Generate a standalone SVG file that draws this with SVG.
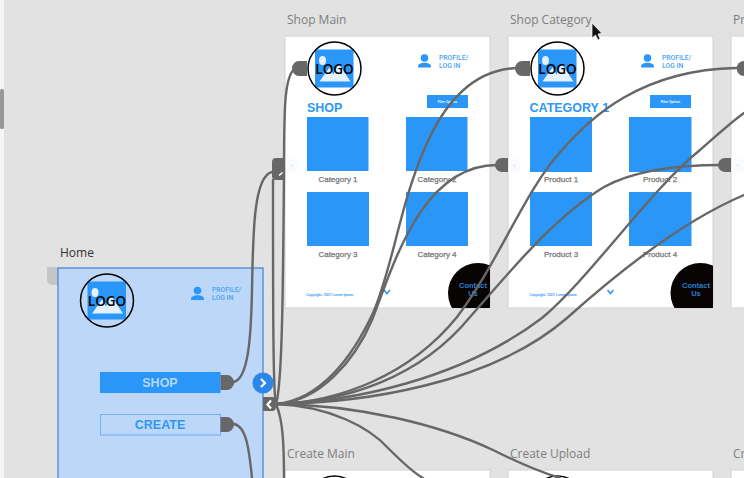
<svg xmlns="http://www.w3.org/2000/svg" xmlns:xlink="http://www.w3.org/1999/xlink" width="744" height="478" viewBox="0 0 744 478">
<style>
.title{font:12px "Open Sans",sans-serif;fill:#7d7d7d}
.card{fill:#fff;stroke:#d2d2d2;stroke-width:1}
.b{fill:#2996f8}
.lg{font:600 13.5px "Open Sans",sans-serif;fill:#000;text-anchor:middle}
.pf{font:500 6.8px Roboto,sans-serif;fill:#4aa4f4}
.hd{font:700 12.5px "Liberation Sans",sans-serif;fill:#2f97f3}
.cap{font:8px "Liberation Sans",sans-serif;fill:#777;text-anchor:middle;stroke:#777;stroke-width:.25}
.cp{font:3.6px "Liberation Sans",sans-serif;fill:#2996f8;stroke:#2996f8;stroke-width:.1}
.ct{font:700 7.5px "Liberation Sans",sans-serif;fill:#2a7fd0;text-anchor:middle}
.fo{font:700 3px "Liberation Sans",sans-serif;fill:#fff;text-anchor:middle}
.tab{fill:#fafbfd}
.tc{fill:none;stroke:#b5d6f7;stroke-width:.7}
.ch{fill:none;stroke:#2996f8;stroke-width:1.5}
.con{fill:none;stroke:#676767;stroke-width:2.4;stroke-linecap:round}
.h{fill:#676767}
.wc{fill:none;stroke:#fff;stroke-width:2.2}
</style>
<defs>
<g id="logo">
<rect x="-19.500" y="-19" width="38.500" height="38" class="b"/>
<ellipse cx="-12" cy="-8" rx="3.500" ry="4.500" fill="#e4f1fd"/>
<path d="M-15 13 L-5 -1 L-1 6 L4 -5 L16 13 Z" fill="#e4f1fd"/>
<circle cx="0" cy="0" r="26.500" fill="none" stroke="#000" stroke-width="1.500"/>
<text x="0" y="5" class="lg">LOGO</text>
</g>
<g id="profile">
<circle cx="0" cy="0" r="3.800" class="b"/>
<path d="M-6.500 9.500 V8.500 C-6.500 3.500 6.500 3.500 6.500 8.500 V9.500 Z" class="b"/>
</g>
<clipPath id="c1"><rect x="285" y="36" width="205" height="272"/></clipPath>
<clipPath id="c2"><rect x="508" y="36" width="205" height="272"/></clipPath>
</defs>

<rect width="744" height="478" fill="#e2e2e2"/>
<rect width="4" height="478" fill="#f6f6f5"/>
<rect x="0" y="89" width="4" height="40" rx="1.500" fill="#979797"/>

<g id="home">
<text x="60" y="257" class="title" style="fill:#333">Home</text>
<path d="M47 267 H58 V285 H53 Q47 285 47 279 Z" fill="#c5c5c5"/>
<rect x="58" y="268" width="205" height="230" fill="#bcd7f7" stroke="#5b93da" stroke-width="1.500"/>
<use xlink:href="#logo" href="#logo" x="107" y="300.500"/>
<use xlink:href="#profile" href="#profile" x="197.500" y="290.500"/>
<text class="pf" x="212" y="292">PROFILE/</text>
<text class="pf" x="212" y="300">LOG IN</text>
</g>
<g id="btn-shop">
<rect x="100" y="372" width="120.500" height="21" class="b"/>
<text x="160" y="386.500" class="hd" text-anchor="middle" style="fill:#b5d8fa">SHOP</text>
<path d="M220.500 375 H227 A7 7.500 0 0 1 227 390 H220.500 Z" class="h"/>
</g>
<g id="btn-create">
<rect x="100.500" y="414.500" width="120" height="20.500" fill="#bcd7f7" stroke="#72b1f5"/>
<text x="160" y="429" class="hd" text-anchor="middle">CREATE</text>
<path d="M220.500 417 H227 A7 7.500 0 0 1 227 432 H220.500 Z" class="h"/>
</g>

<g id="shop-main">
<text x="287" y="24" class="title">Shop Main</text>
<rect x="285" y="36" width="205" height="272" class="card"/>
<use xlink:href="#logo" href="#logo" x="334.500" y="68.500"/>
<use xlink:href="#profile" href="#profile" x="424.500" y="58"/>
<text class="pf" x="439" y="59.500">PROFILE/</text>
<text class="pf" x="439" y="67.500">LOG IN</text>
<text class="hd" x="307" y="112">SHOP</text>
<rect x="427" y="95" width="41" height="13" class="b"/>
<text x="447.500" y="103" class="fo">Filter Options</text>
<rect x="307" y="117" width="61.500" height="54" class="b"/>
<rect x="406" y="117" width="61.500" height="54" class="b"/>
<rect x="307" y="192" width="62" height="54" class="b"/>
<rect x="406" y="192" width="62" height="54" class="b"/>
<text x="338" y="182" class="cap">Category 1</text>
<text x="437" y="182" class="cap">Category 2</text>
<text x="338" y="257" class="cap">Category 3</text>
<text x="437" y="257" class="cap">Category 4</text>
<text x="306" y="296" class="cp">Copyright, 2022 Lorem Ipsum</text>
<path d="M384 290 L387 293.500 L390 290" class="ch"/>
<circle cx="478" cy="293" r="30" fill="#080404" clip-path="url(#c1)"/>
<text x="473" y="288" class="ct">Contact</text>
<text x="473" y="296" class="ct">Us</text>
<rect x="287" y="159" width="10" height="13" class="tab"/>
<path d="M292.500 164 L291 165.500 L292.500 167" class="tc"/>
</g>

<g id="shop-category">
<text x="510" y="24" class="title">Shop Category</text>
<rect x="508" y="36" width="205" height="272" class="card"/>
<use xlink:href="#logo" href="#logo" x="557.500" y="68.500"/>
<use xlink:href="#profile" href="#profile" x="647.500" y="58"/>
<text class="pf" x="662" y="59.500">PROFILE/</text>
<text class="pf" x="662" y="67.500">LOG IN</text>
<text class="hd" x="529.500" y="112">CATEGORY 1</text>
<rect x="650" y="95" width="41" height="13" class="b"/>
<text x="670.500" y="103" class="fo">Filter Options</text>
<rect x="530" y="117" width="62" height="55" class="b"/>
<rect x="629" y="117" width="62.500" height="55" class="b"/>
<rect x="530" y="192" width="62" height="54" class="b"/>
<rect x="629" y="192" width="62.500" height="54" class="b"/>
<text x="561" y="182" class="cap">Product 1</text>
<text x="660" y="182" class="cap">Product 2</text>
<text x="561" y="257" class="cap">Product 3</text>
<text x="660" y="257" class="cap">Product 4</text>
<text x="529.500" y="296" class="cp">Copyright, 2022 Lorem Ipsum</text>
<path d="M607.500 290 L610.500 293.500 L613.500 290" class="ch"/>
<circle cx="700.500" cy="293" r="30" fill="#080404" clip-path="url(#c2)"/>
<text x="696" y="288" class="ct">Contact</text>
<text x="696" y="296" class="ct">Us</text>
<rect x="510" y="159" width="10" height="13" class="tab"/>
<path d="M515.500 164 L514 165.500 L515.500 167" class="tc"/>
</g>

<g id="product">
<text x="733" y="24" class="title">Pr</text>
<rect x="731" y="36" width="30" height="272" class="card"/>
<rect x="733" y="159" width="11" height="13" class="tab"/>
<path d="M738.500 164 L737 165.500 L738.500 167" class="tc"/>
</g>

<g id="create-main">
<text x="287" y="458" class="title">Create Main</text>
<rect x="285" y="470" width="205" height="30" class="card"/>
<use xlink:href="#logo" href="#logo" x="334.500" y="502.500"/>
</g>
<g id="create-upload">
<text x="510" y="458" class="title">Create Upload</text>
<rect x="508" y="470" width="205" height="30" class="card"/>
<use xlink:href="#logo" href="#logo" x="557.500" y="502.500"/>
</g>
<g id="create-next">
<text x="733" y="458" class="title">Cr</text>
<rect x="731" y="470" width="30" height="30" class="card"/>
</g>

<g id="connectors">
<path class="con" d="M234 382 C248 378 251 340 252 290 C253 230 254 176 272 172"/>
<path class="con" d="M234 424 C246 426 249 448 252 478"/>
<path class="con" d="M276 404 C273 395 273 300 273 180"/>
<path class="con" d="M276 404 C282 385 283 300 284 170 C284 110 284 68 298 68"/>
<path class="con" d="M276 404 C283 420 284 445 284 478"/>
<path class="con" d="M276 404 C320 400 352 358 373 313 C392 270 400 205 424 150 C445 100 475 68 520 68"/>
<path class="con" d="M276 404 C320 402 355 360 372 320 C392 270 420 165 497 165"/>
<path class="con" d="M276 404 C340 402 410 375 457 317 C500 260 525 190 562 150 C590 118 640 70 736 68"/>
<path class="con" d="M276 404 C345 402 420 378 470 317 C505 278 550 220 604 187 C635 170 680 165 722 165"/>
<path class="con" d="M276 404 C350 402 460 380 542 318 C590 278 650 190 700 150 C715 137 730 123 744 113"/>
<path class="con" d="M276 404 C360 403 490 385 567 318 C615 275 680 222 744 195"/>
<path class="con" d="M276 404 C330 406 370 428 388 448 C400 460 412 472 423 478"/>
<path class="con" d="M276 404 C360 405 440 425 493 450 C515 461 540 472 560 478"/>
</g>

<g id="handles">
<path d="M307 61 H299 A7 7.500 0 0 0 299 76 H307 Z" class="h"/>
<path d="M530 61 H522 A7 7.500 0 0 0 522 76 H530 Z" class="h"/>
<path d="M744 61 A7.500 7.500 0 0 0 744 76 Z" class="h"/>
<path d="M508 158 H502 A7 7 0 0 0 502 172 H508 Z" class="h"/>
<path d="M731 158 H725 A7 7 0 0 0 725 172 H731 Z" class="h"/>
<path d="M285 158 H276 Q272 158 272 162 V176 Q272 180 276 180 H285 Z" class="h"/>
<path d="M279 175.500 L282.500 172.500" stroke="#fff" stroke-width="1.600"/>
</g>
<g id="next-btn">
<circle cx="263" cy="383" r="10.500" fill="#2a86e8"/>
<path d="M261 379 L265 383 L261 387" class="wc"/>
</g>
<g id="back-btn">
<path d="M263 397 H272 Q276 397 276 401 V407 Q276 411 272 411 H263 Z" class="h"/>
<path d="M271 400.500 L267.500 404.500 L271 408.500" class="wc"/>
</g>
<path id="cursor" d="M592 23 V38 L595.500 35 L598 40 L600 39 L598 34 L602 33.500 Z" fill="#111" stroke="#fff" stroke-width=".7"/>
</svg>
